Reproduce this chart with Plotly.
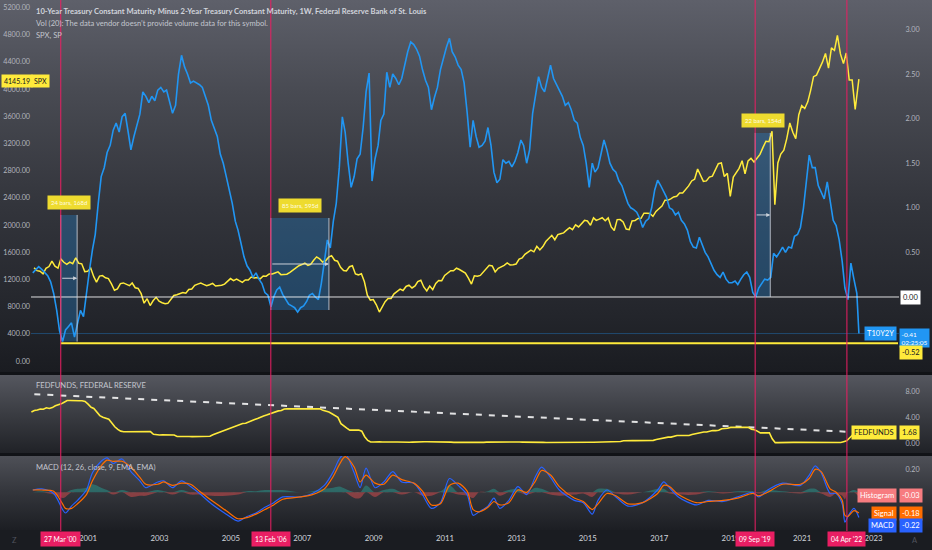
import base64
import numpy as np
import pandas as pd
import plotly.graph_objects as go

W, H = 932, 550


def month_dates(y0, m0, y1, m1, day):
    out = []
    y, m = y0, m0
    while (y, m) <= (y1, m1):
        out.append(f"{y}-{m:02d}-{day:02d}")
        m += 1
        if m > 12:
            m = 1
            y += 1
    return out


# ---------------- data ----------------
t10y2y_dates = month_dates(1999, 6, 2022, 7, 15) + ["2022-08-05"]
t10y2y = [
    0.27, 0.30, 0.34, 0.31, 0.27, 0.24, 0.17,
    0.04, -0.15, -0.38, -0.50, -0.37, -0.33, -0.29, -0.45, -0.30, -0.15, -0.22, 0.05,
    0.30, 0.53, 0.70, 1.05, 1.35, 1.45, 1.62, 1.70, 1.87, 1.95, 1.85, 2.02,
    2.06, 1.85, 1.65, 1.80, 1.93, 2.05, 2.30, 2.25, 2.18, 2.25, 2.20, 2.32,
    2.35, 2.30, 2.32, 2.20, 2.06, 2.15, 2.50, 2.71, 2.58, 2.50, 2.40, 2.42,
    2.40, 2.38, 2.35, 2.25, 2.15, 1.98, 1.90, 1.80, 1.60, 1.50, 1.35, 1.20,
    1.05, 0.85, 0.75, 0.60, 0.45, 0.35, 0.30, 0.22, 0.27, 0.20, 0.15, 0.05,
    0.02, -0.11, 0.00, 0.08, 0.11, 0.03, -0.03, -0.08, -0.10, -0.12, -0.17, -0.12,
    -0.10, -0.05, 0.02, 0.04, 0.00, -0.03, 0.15, 0.40, 0.64, 0.55, 0.85, 1.05,
    1.45, 2.02, 1.85, 1.50, 1.23, 1.35, 1.55, 1.60, 1.90, 2.30, 2.51, 1.30,
    1.55, 1.70, 1.98, 2.05, 2.52, 2.35, 2.50, 2.45, 2.38, 2.45, 2.60, 2.75,
    2.86, 2.83, 2.78, 2.70, 2.55, 2.43, 2.35, 2.10, 2.24, 2.35, 2.55, 2.69,
    2.80, 2.90, 2.75, 2.69, 2.60, 2.55, 2.40, 2.07, 1.68, 1.98, 1.80, 1.68,
    1.70, 1.75, 1.90, 1.70, 1.40, 1.28, 1.32, 1.54, 1.50, 1.52, 1.46, 1.52,
    1.62, 1.76, 1.70, 1.50, 1.65, 2.06, 2.25, 2.47, 2.35, 2.30, 2.45, 2.60,
    2.45, 2.38, 2.32, 2.25, 2.15, 2.18, 2.10, 1.98, 1.95, 1.79, 1.70, 1.50,
    1.23, 1.50, 1.40, 1.45, 1.60, 1.76, 1.65, 1.50, 1.43, 1.40, 1.30, 1.25,
    1.15, 1.05, 1.00, 0.98, 0.95, 0.88, 0.78, 0.85, 0.88, 1.00, 1.20, 1.31,
    1.25, 1.18, 1.12, 1.00, 0.98, 0.92, 0.95, 0.86, 0.82, 0.75, 0.62, 0.56,
    0.55, 0.67, 0.58, 0.50, 0.45, 0.38, 0.30, 0.25, 0.22, 0.28, 0.20, 0.16,
    0.16, 0.18, 0.14, 0.20, 0.25, 0.28, 0.22, 0.05, 0.00, 0.10, 0.15, 0.20,
    0.19, 0.22, 0.49, 0.45, 0.50, 0.56, 0.50, 0.56, 0.55, 0.68, 0.70, 0.78,
    1.00, 1.30, 1.59, 1.45, 1.45, 1.25, 1.17, 1.10, 1.29, 1.10, 0.86, 0.80,
    0.64, 0.40, 0.10, -0.03, 0.38, 0.20, 0.04, -0.41,
]

spx_dates = month_dates(1999, 6, 2022, 7, 28) + ["2022-08-05"]
spx_close = [
    1372, 1329, 1320, 1283, 1363, 1389, 1469,
    1394, 1366, 1499, 1452, 1421, 1455, 1431, 1518, 1437, 1429, 1315, 1320,
    1366, 1240, 1160, 1249, 1256, 1224, 1211, 1134, 1041, 1060, 1139, 1148,
    1130, 1107, 1147, 1077, 1067, 990, 850, 916, 815, 886, 936, 880,
    856, 841, 848, 917, 964, 975, 990, 1008, 996, 1051, 1058, 1112,
    1131, 1145, 1126, 1107, 1121, 1141, 1102, 1104, 1115, 1130, 1174, 1212,
    1181, 1204, 1181, 1157, 1192, 1191, 1234, 1220, 1229, 1207, 1249, 1248,
    1280, 1281, 1295, 1311, 1270, 1270, 1277, 1304, 1336, 1378, 1401, 1418,
    1438, 1407, 1421, 1482, 1531, 1503, 1455, 1474, 1527, 1549, 1481, 1468,
    1379, 1331, 1323, 1386, 1400, 1280, 1267, 1283, 1165, 969, 896, 903,
    826, 720, 798, 873, 919, 919, 987, 1021, 1057, 1036, 1096, 1115,
    1074, 1104, 1169, 1187, 1089, 1031, 1102, 1049, 1141, 1183, 1181, 1258,
    1286, 1327, 1326, 1364, 1345, 1321, 1292, 1219, 1131, 1253, 1247, 1258,
    1312, 1366, 1408, 1398, 1310, 1362, 1379, 1407, 1441, 1412, 1416, 1426,
    1498, 1515, 1569, 1598, 1631, 1606, 1686, 1633, 1682, 1757, 1806, 1848,
    1783, 1859, 1872, 1884, 1924, 1960, 1931, 2003, 1972, 2018, 2068, 2059,
    1995, 2105, 2068, 2086, 2107, 2063, 2104, 1972, 1920, 2079, 2080, 2044,
    1940, 1932, 2060, 2065, 2097, 2099, 2174, 2171, 2168, 2126, 2199, 2239,
    2279, 2364, 2363, 2384, 2412, 2423, 2470, 2472, 2519, 2575, 2648, 2674,
    2824, 2714, 2641, 2648, 2705, 2718, 2816, 2902, 2914, 2712, 2760, 2420,
    2704, 2784, 2834, 2946, 2752, 2942, 2980, 2926, 2977, 3038, 3141, 3231,
    3226, 3380, 2300, 2912, 3044, 3100, 3271, 3500, 3363, 3270, 3622, 3756,
    3714, 3811, 3973, 4181, 4204, 4298, 4395, 4523, 4308, 4605, 4567, 4790,
    4516, 4374, 4530, 4132, 4132, 3700, 4130, 4145.19,
]

fed_dates = month_dates(1999, 6, 2022, 7, 1)
fedfunds = [
    4.76, 4.99, 5.07, 5.22, 5.20, 5.42, 5.30,
    5.45, 5.73, 5.85, 6.02, 6.27, 6.53, 6.54, 6.50, 6.52, 6.51, 6.51, 6.40,
    5.98, 5.49, 5.31, 4.80, 4.21, 3.97, 3.77, 3.65, 3.07, 2.49, 2.09, 1.82,
    1.73, 1.74, 1.73, 1.75, 1.75, 1.75, 1.73, 1.74, 1.75, 1.75, 1.34, 1.24,
    1.24, 1.26, 1.25, 1.26, 1.26, 1.22, 1.01, 1.03, 1.01, 1.01, 1.00, 0.98,
    1.00, 1.01, 1.00, 1.00, 1.00, 1.03, 1.26, 1.43, 1.61, 1.76, 1.93, 2.16,
    2.28, 2.50, 2.63, 2.79, 3.00, 3.04, 3.26, 3.50, 3.62, 3.78, 4.00, 4.16,
    4.29, 4.49, 4.59, 4.79, 4.94, 4.99, 5.24, 5.25, 5.25, 5.25, 5.25, 5.24,
    5.25, 5.26, 5.26, 5.25, 5.25, 5.25, 5.26, 5.02, 4.94, 4.76, 4.49, 4.24,
    3.94, 2.98, 2.61, 2.28, 1.98, 2.00, 2.01, 2.00, 1.81, 0.97, 0.39, 0.16,
    0.15, 0.22, 0.18, 0.15, 0.18, 0.21, 0.16, 0.16, 0.15, 0.12, 0.12, 0.12,
    0.11, 0.13, 0.16, 0.20, 0.20, 0.18, 0.18, 0.19, 0.19, 0.19, 0.19, 0.18,
    0.17, 0.16, 0.14, 0.10, 0.09, 0.09, 0.07, 0.10, 0.08, 0.07, 0.08, 0.07,
    0.08, 0.10, 0.13, 0.14, 0.16, 0.16, 0.16, 0.13, 0.14, 0.16, 0.16, 0.16,
    0.14, 0.15, 0.14, 0.15, 0.11, 0.09, 0.09, 0.08, 0.08, 0.09, 0.08, 0.09,
    0.07, 0.07, 0.08, 0.09, 0.09, 0.10, 0.09, 0.09, 0.09, 0.09, 0.09, 0.12,
    0.11, 0.11, 0.11, 0.12, 0.12, 0.13, 0.13, 0.14, 0.14, 0.12, 0.12, 0.24,
    0.34, 0.38, 0.36, 0.37, 0.37, 0.38, 0.39, 0.40, 0.40, 0.40, 0.41, 0.54,
    0.65, 0.66, 0.79, 0.90, 0.91, 1.04, 1.15, 1.16, 1.15, 1.15, 1.16, 1.30,
    1.41, 1.42, 1.51, 1.69, 1.70, 1.82, 1.91, 1.91, 1.95, 2.19, 2.20, 2.27,
    2.40, 2.40, 2.41, 2.42, 2.39, 2.38, 2.40, 2.13, 2.04, 1.83, 1.55, 1.55,
    1.55, 1.58, 0.65, 0.05, 0.05, 0.08, 0.09, 0.10, 0.09, 0.09, 0.09, 0.09,
    0.09, 0.08, 0.07, 0.07, 0.06, 0.08, 0.10, 0.09, 0.08, 0.08, 0.08, 0.08,
    0.08, 0.08, 0.20, 0.33, 0.77, 1.21, 1.68,
]

fed_trend_dates = ["1999-07-01", "2022-10-20"]
fed_trend_vals = [7.5, 1.6]

macd_dates = [
    "1999-06-15", "1999-09-15",
    "2000-01-15", "2000-04-15", "2000-05-15", "2000-07-15", "2000-09-15", "2000-12-15",
    "2001-02-15", "2001-05-15", "2001-07-15", "2001-09-15", "2001-12-15",
    "2002-03-15", "2002-06-15", "2002-08-15", "2002-12-15",
    "2003-02-15", "2003-05-15", "2003-08-15", "2003-11-15",
    "2004-02-15", "2004-06-15", "2004-11-15",
    "2005-03-15", "2005-06-15", "2005-09-15", "2005-12-15",
    "2006-03-15", "2006-06-15", "2006-12-15",
    "2007-04-15", "2007-08-15", "2007-11-15",
    "2008-01-15", "2008-03-15", "2008-06-15", "2008-08-15", "2008-10-15",
    "2009-01-15", "2009-04-15", "2009-07-15", "2009-10-15",
    "2010-02-15", "2010-05-15", "2010-08-15", "2010-11-15",
    "2011-02-15", "2011-05-15", "2011-08-15", "2011-10-15", "2011-12-15",
    "2012-03-15", "2012-05-15", "2012-07-15", "2012-10-15",
    "2013-01-15", "2013-04-15", "2013-07-15", "2013-09-15", "2013-12-15",
    "2014-03-15", "2014-08-15", "2014-11-15",
    "2015-02-15", "2015-04-15", "2015-07-15", "2015-10-15",
    "2016-02-15", "2016-07-15", "2016-12-15",
    "2017-02-15", "2017-04-15", "2017-07-15",
    "2018-01-15", "2018-05-15", "2018-10-15",
    "2019-03-15", "2019-08-15", "2019-10-15",
    "2020-01-15", "2020-06-15", "2020-12-15",
    "2021-03-15", "2021-05-15", "2021-07-15", "2021-10-15", "2021-12-15",
    "2022-02-15", "2022-03-15", "2022-04-15", "2022-06-15", "2022-08-05",
]
macd_line = [
    0.02, 0.03,
    -0.01, -0.15, -0.18, -0.12, -0.07, 0.02,
    0.17, 0.27, 0.30, 0.25, 0.29,
    0.18, 0.10, 0.04, 0.09,
    0.10, 0.04, 0.10, 0.05,
    -0.01, -0.10, -0.19,
    -0.25, -0.21, -0.18, -0.13,
    -0.09, -0.04, -0.04,
    -0.01, 0.06, 0.18,
    0.29, 0.34, 0.17, 0.04, 0.21,
    0.04, 0.09, 0.18, 0.09,
    0.08, -0.02, -0.14, -0.09,
    0.12, 0.06, -0.02, -0.20, -0.17,
    -0.12, -0.05, -0.14, -0.07,
    0.05, -0.02, 0.14, 0.22, 0.13,
    0.02, -0.07, -0.09,
    -0.19, -0.07, 0.02, -0.04,
    -0.12, -0.09, 0.02,
    0.09, 0.04, -0.04,
    -0.11, -0.07, -0.08,
    -0.04, 0.00, -0.04,
    0.02, 0.08, 0.06,
    0.15, 0.23, 0.17, -0.01, -0.01,
    -0.10, -0.26, -0.21, -0.14, -0.22,
]
macd_signal = [
    0.02, 0.02,
    0.01, -0.10, -0.14, -0.14, -0.10, -0.02,
    0.10, 0.23, 0.28, 0.27, 0.27,
    0.22, 0.13, 0.07, 0.07,
    0.09, 0.06, 0.08, 0.07,
    0.01, -0.07, -0.16,
    -0.23, -0.22, -0.19, -0.15,
    -0.11, -0.06, -0.04,
    -0.02, 0.03, 0.14,
    0.24, 0.31, 0.22, 0.09, 0.15,
    0.08, 0.07, 0.15, 0.11,
    0.08, 0.01, -0.11, -0.10,
    0.06, 0.08, 0.01, -0.15, -0.17,
    -0.13, -0.08, -0.11, -0.09,
    0.02, 0.00, 0.10, 0.19, 0.15,
    0.05, -0.05, -0.08,
    -0.15, -0.10, -0.01, -0.03,
    -0.10, -0.09, -0.01,
    0.06, 0.05, -0.02,
    -0.09, -0.08, -0.07,
    -0.05, -0.01, -0.03,
    0.00, 0.07, 0.07,
    0.12, 0.20, 0.18, 0.03, 0.00,
    -0.07, -0.20, -0.21, -0.16, -0.18,
]

vline_dates = ["2000-03-27", "2006-02-13", "2019-09-09", "2022-04-04"]
vline_labels = ["27 Mar '00", "13 Feb '06", "09 Sep '19", "04 Apr '22"]

range_starts = ["2000-03-27", "2006-02-13", "2019-09-09"]
range_ends = ["2000-09-11", "2007-10-01", "2020-02-10"]
range_lows = [-0.50, -0.146, 0.0]
range_highs = [0.92, 0.886, 1.84]
range_labels = ["24 bars, 168d", "85 bars, 595d", "22 bars, 154d"]

year_ticks = list(range(2001, 2024, 2))
spx_ticks = list(range(0, 5201, 400))
t10_ticks = [0.5, 1.0, 1.5, 2.0, 2.5, 3.0]

# ---------------- geometry helpers ----------------
def px(p):
    return p / W


def py(p):
    return 1 - p / H


FONT = "Lato, Liberation Sans, sans-serif"
TXT = "#d1d4dc"
TICK = "#b2b5be"
PINK = "rgba(233,30,99,0.85)"
BLUE = "#2196f3"
YEL = "#ffeb3b"


def grad(stops):
    s = "".join(f'<stop offset="{o}" stop-color="{c}"/>' for o, c in stops)
    svg = ('<svg xmlns="http://www.w3.org/2000/svg" width="100" height="100" preserveAspectRatio="none">'
           '<defs><linearGradient id="g" x1="0" y1="0" x2="0" y2="1">' + s +
           '</linearGradient></defs><rect width="100" height="100" fill="url(#g)"/></svg>')
    return "data:image/svg+xml;base64," + base64.b64encode(svg.encode()).decode()


fig = go.Figure()

# main pane
fig.add_trace(go.Scatter(x=t10y2y_dates, y=t10y2y, yaxis="y2", mode="lines",
                         line=dict(color=BLUE, width=1.6), hoverinfo="skip"))
fig.add_trace(go.Scatter(x=spx_dates, y=spx_close, yaxis="y", mode="lines",
                         line=dict(color=YEL, width=1.5), hoverinfo="skip"))

# fed funds pane
fig.add_trace(go.Scatter(x=fed_trend_dates, y=fed_trend_vals, yaxis="y3", mode="lines",
                         line=dict(color="rgba(255,255,255,0.85)", width=2, dash="6px,7px"),
                         hoverinfo="skip"))
fig.add_trace(go.Scatter(x=fed_dates, y=fedfunds, yaxis="y3", mode="lines",
                         line=dict(color=YEL, width=1.6), hoverinfo="skip"))

# MACD pane
hist = np.array(macd_line) - np.array(macd_signal)
fig.add_trace(go.Scatter(x=macd_dates, y=np.maximum(hist, 0), yaxis="y4", mode="lines",
                         fill="tozeroy", fillcolor="rgba(38,166,154,0.45)",
                         line=dict(width=0, shape="spline"), hoverinfo="skip"))
fig.add_trace(go.Scatter(x=macd_dates, y=np.minimum(hist, 0), yaxis="y4", mode="lines",
                         fill="tozeroy", fillcolor="rgba(255,82,82,0.42)",
                         line=dict(width=0, shape="spline"), hoverinfo="skip"))
fig.add_trace(go.Scatter(x=macd_dates, y=macd_line, yaxis="y4", mode="lines",
                         line=dict(color="#2962ff", width=1.2, shape="spline", smoothing=0.8),
                         hoverinfo="skip"))
fig.add_trace(go.Scatter(x=macd_dates, y=macd_signal, yaxis="y4", mode="lines",
                         line=dict(color="#ff6d00", width=1.2, shape="spline", smoothing=0.8),
                         hoverinfo="skip"))

shapes = []
# pane separators
for a, b in [(372, 375), (453, 456)]:
    shapes.append(dict(type="rect", xref="paper", yref="paper", x0=0, x1=1, y0=py(b), y1=py(a),
                       fillcolor="#111317", line=dict(width=0), layer="below"))

# horizontal lines in main pane
shapes.append(dict(type="line", xref="paper", yref="y2", x0=px(31), x1=px(899), y0=-0.41, y1=-0.41,
                   line=dict(color="rgba(33,150,243,0.35)", width=1)))
shapes.append(dict(type="line", xref="paper", yref="y2", x0=px(31), x1=px(899), y0=0, y1=0,
                   line=dict(color="rgba(255,255,255,0.85)", width=1)))
shapes.append(dict(type="line", xref="x", yref="y2", x0=vline_dates[0], x1="2023-09-09",
                   y0=-0.52, y1=-0.52, line=dict(color=YEL, width=2)))

# date-range boxes
for s, e, lo, hi in zip(range_starts, range_ends, range_lows, range_highs):
    shapes.append(dict(type="rect", xref="x", yref="y2", x0=s, x1=e, y0=lo, y1=hi,
                       fillcolor="rgba(33,150,243,0.27)", line=dict(width=0), layer="below"))
    for xx in (s, e):
        shapes.append(dict(type="line", xref="x", yref="y2", x0=xx, x1=xx, y0=lo, y1=hi,
                           line=dict(color="rgba(210,214,222,0.8)", width=1)))

# vertical pink lines
for d in vline_dates:
    shapes.append(dict(type="line", xref="x", yref="paper", x0=d, x1=d, y0=py(531), y1=1,
                       line=dict(color=PINK, width=1.2)))

annotations = []


def lab(text, x, y, bg, fg, xanchor="left", size=7.5, pad=2):
    annotations.append(dict(text=text, x=px(x), y=py(y), xref="paper", yref="paper",
                            xanchor=xanchor, yanchor="middle", showarrow=False,
                            bgcolor=bg, borderpad=pad,
                            font=dict(family=FONT, size=size, color=fg), align="left"))


def txt(text, x, y, size=8, color=TXT, xanchor="left"):
    annotations.append(dict(text=text, x=px(x), y=py(y), xref="paper", yref="paper",
                            xanchor=xanchor, yanchor="middle", showarrow=False,
                            font=dict(family=FONT, size=size, color=color)))


txt("<b>10-Year Treasury Constant Maturity Minus 2-Year Treasury Constant Maturity, 1W, Federal Reserve Bank of St. Louis</b>", 34, 11, 7.6)
txt("Vol (20): The data vendor doesn’t provide volume data for this symbol.", 34, 23, 7.6, "#c3c6ce")
txt("SPX, SP", 34, 35, 7.6, "#c3c6ce")
txt("FEDFUNDS, FEDERAL RESERVE", 34, 385, 7.6, "#c3c6ce")
txt("MACD (12, 26, close, 9, EMA, EMA)", 34, 467, 7.6, "#c3c6ce")

# date-range labels and arrows
for s, e, lo, hi, t in zip(range_starts, range_ends, range_lows, range_highs, range_labels):
    mid = (lo + hi) / 2
    ts, te = pd.Timestamp(s), pd.Timestamp(e)
    center = (ts + (te - ts) / 2).strftime("%Y-%m-%d")
    annotations.append(dict(x=e, y=mid, xref="x", yref="y2", ax=s, ay=mid, axref="x", ayref="y2",
                            text="", showarrow=True, arrowhead=2, arrowsize=0.8, arrowwidth=1,
                            arrowcolor="rgba(220,224,230,0.9)"))
    annotations.append(dict(x=center, y=hi, xref="x", yref="y2", text=t, showarrow=False,
                            yanchor="bottom", yshift=5,
                            bgcolor="#eedb2f", borderpad=3,
                            font=dict(family=FONT, size=6, color="#fffbe0")))

# vertical line date labels
for d, t in zip(vline_dates, vline_labels):
    annotations.append(dict(x=d, y=py(539), xref="x", yref="paper", text=t, showarrow=False,
                            xanchor="center", yanchor="middle", bgcolor="#e91e63", borderpad=3,
                            font=dict(family=FONT, size=6.8, color="#ffffff")))

# price-scale labels
lab("4145.19", 1, 81, YEL, "#131722", size=7)
lab("SPX", 31, 81, YEL, "#131722", size=7)
lab("0.00", 900, 297.5, "#ffffff", "#131722", size=7.5)
lab("T10Y2Y", 897, 333, BLUE, "#ffffff", xanchor="right", size=7.5)
lab("-0.41<br>02:25:05", 899, 337.5, BLUE, "#ffffff", size=6.5, pad=1.5)
lab("-0.52", 899, 352.5, YEL, "#131722", size=7.5)
lab("FEDFUNDS", 897, 432, YEL, "#131722", xanchor="right", size=7.5)
lab("1.68", 899, 432, YEL, "#131722", size=7.5)
lab("Histogram", 897, 495.5, "#f77c80", "#ffffff", xanchor="right", size=7.5)
lab("-0.03", 899, 495.5, "#f77c80", "#ffffff", size=7.5)
lab("Signal", 897, 513.5, "#ff6d00", "#ffffff", xanchor="right", size=7.5)
lab("-0.18", 899, 513.5, "#ff6d00", "#ffffff", size=7.5)
lab("MACD", 897, 525, "#2962ff", "#ffffff", xanchor="right", size=7.5)
lab("-0.22", 899, 525, "#2962ff", "#ffffff", size=7.5)
txt("Z", 14, 540, 7.5, "#50535e", xanchor="center")
txt("A", 915, 540, 7.5, "#50535e", xanchor="center")

images = [
    dict(source=grad([(0, "#5e606a"), (0.25, "#484a52"), (0.55, "#33353c"), (0.85, "#23252b"), (1, "#1a1c21")]),
         xref="paper", yref="paper", x=0, y=1, sizex=1, sizey=372 / H,
         xanchor="left", yanchor="top", sizing="stretch", layer="below"),
    dict(source=grad([(0, "#55575f"), (0.5, "#3a3c42"), (1, "#202227")]),
         xref="paper", yref="paper", x=0, y=py(375), sizex=1, sizey=78 / H,
         xanchor="left", yanchor="top", sizing="stretch", layer="below"),
    dict(source=grad([(0, "#4e5057"), (0.5, "#33353b"), (1, "#1c1e23")]),
         xref="paper", yref="paper", x=0, y=py(456), sizex=1, sizey=74 / H,
         xanchor="left", yanchor="top", sizing="stretch", layer="below"),
]

tickfont = dict(family=FONT, size=7.2, color=TICK)
fig.update_layout(
    width=W, height=H,
    margin=dict(l=0, r=0, t=0, b=0),
    paper_bgcolor="#1a1c21", plot_bgcolor="rgba(0,0,0,0)",
    showlegend=False,
    shapes=shapes, annotations=annotations, images=images,
    xaxis=dict(domain=[px(31), px(898)], range=["1999-05-28", "2023-09-09"], type="date",
               tickvals=[f"{y}-01-01" for y in year_ticks], ticktext=[str(y) for y in year_ticks],
               showgrid=False, zeroline=False, showline=False, ticks="",
               anchor="free", position=py(532), tickfont=dict(family=FONT, size=7.8, color=TXT)),
    yaxis=dict(domain=[py(372), 1], range=[-162, 5309], side="left",
               tickvals=spx_ticks, ticktext=[f"{v:.2f}" for v in spx_ticks],
               showgrid=False, zeroline=False, showline=False, ticks="", tickfont=tickfont),
    yaxis2=dict(overlaying="y", range=[-0.841, 3.33], side="right",
                tickvals=t10_ticks, ticktext=[f"{v:.2f}" for v in t10_ticks],
                showgrid=False, zeroline=False, showline=False, ticks="outside", ticklen=5,
                tickcolor="rgba(0,0,0,0)", tickfont=tickfont),
    yaxis3=dict(domain=[py(453), py(375)], range=[-1.54, 10.46], side="right", anchor="x",
                tickvals=[0, 4, 8], ticktext=["0.00", "4.00", "8.00"],
                showgrid=False, zeroline=False, showline=False, ticks="outside", ticklen=5,
                tickcolor="rgba(0,0,0,0)", tickfont=tickfont),
    yaxis4=dict(domain=[py(530), py(456)], range=[-0.328, 0.316], side="right", anchor="x",
                tickvals=[0.2], ticktext=["0.20"],
                showgrid=False, zeroline=False, showline=False, ticks="outside", ticklen=5,
                tickcolor="rgba(0,0,0,0)", tickfont=tickfont),
)

fig.write_html("out.html", config={"displayModeBar": False},
               post_script="document.body.style.margin='0';document.body.style.overflow='hidden';")
